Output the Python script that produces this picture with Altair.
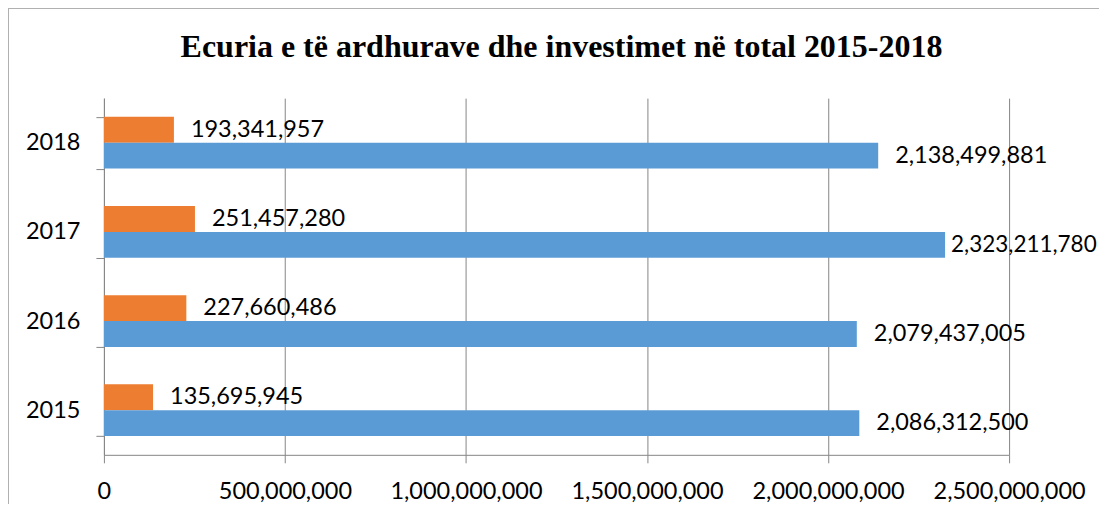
import altair as alt
import pandas as pd

title_text = "Ecuria e të ardhurave dhe investimet në total 2015-2018"
years = ["2015", "2016", "2017", "2018"]
investimet = [135695945, 227660486, 251457280, 193341957]
ardhurat = [2086312500, 2079437005, 2323211780, 2138499881]
series = ["Investimet", "Të ardhurat"]
colors = ["#ED7D31", "#5B9BD5"]
x_ticks = [0, 500000000, 1000000000, 1500000000, 2000000000, 2500000000]

rows = []
for y, a, b in zip(years, investimet, ardhurat):
    rows.append({"year": y, "series": series[0], "value": a})
    rows.append({"year": y, "series": series[1], "value": b})
df = pd.DataFrame(rows)
df["label"] = df["value"].map(lambda v: f"{v:,}")
# labels that would run past the chart edge are pulled closer to the bar
df["near"] = df["value"] > 2300000000

FONT = "Lato"
FS = 23.5
year_order = years[::-1]

y_enc = alt.Y("year:N", sort=year_order,
              scale=alt.Scale(paddingInner=0.42, paddingOuter=0.21),
              axis=alt.Axis(title=None, tickBand="extent", labelFontSize=FS, grid=False,
                            labelFont=FONT, labelColor="#000000", domainColor="#868686",
                            tickColor="#868686", tickSize=8, labelPadding=16))
yoff = alt.YOffset("series:N", sort=series, scale=alt.Scale(paddingInner=0, paddingOuter=0))
x_enc = alt.X("value:Q", scale=alt.Scale(domain=[0, 2500000000], nice=False),
              axis=alt.Axis(title=None, values=x_ticks, grid=True,
                            format=",d", labelFontSize=FS, labelFont=FONT, labelColor="#000000",
                            domainColor="#868686", tickColor="#868686", tickSize=8,
                            gridColor="#868686", gridWidth=1, labelPadding=17, labelFlush=False))

bars = alt.Chart(df).mark_bar().encode(
    x=x_enc, y=y_enc, yOffset=yoff,
    color=alt.Color("series:N", sort=series, scale=alt.Scale(domain=series, range=colors), legend=None),
)


def label_layer(near, dx, fs):
    return alt.Chart(df).transform_filter(
        alt.datum.near == near
    ).mark_text(align="left", baseline="middle", dx=dx, fontSize=fs, font=FONT,
                color="#000000").encode(
        x="value:Q", y=alt.Y("year:N", sort=year_order), yOffset=yoff, text="label:N")


labels_far = label_layer(False, 17, FS)
labels_near = label_layer(True, 6, 22.5)

border = alt.Chart(df).mark_rect(fill=None, stroke="#B0B0B0", strokeWidth=1.5, clip=False).encode(
    x=alt.value(-96), x2=alt.value(1020), y=alt.value(-90), y2=alt.value(430))

title = alt.Chart(pd.DataFrame({"t": [title_text]})).mark_text(
    font="Liberation Serif", fontSize=32, fontWeight="bold", color="#000000",
    align="center", baseline="alphabetic", clip=False).encode(
    text="t:N", x=alt.value(458), y=alt.value(-41))

chart = alt.layer(border, bars, labels_far, labels_near, title).properties(
    width=906, height=357,
    autosize=alt.AutoSizeParams(type="none"),
    padding={"left": 96, "top": 90, "right": 90, "bottom": 49},
).configure_view(stroke=None)

chart.save("out.html", embed_options={"renderer": "svg", "actions": False})
